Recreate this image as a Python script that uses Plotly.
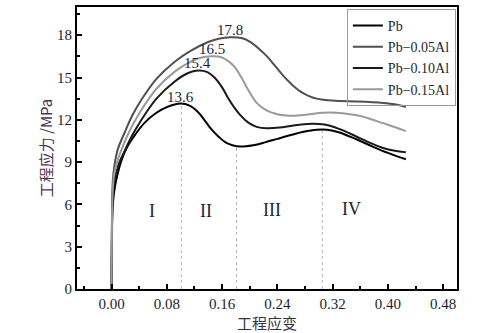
import plotly.graph_objects as go

# ---- data ----
series_names = ["Pb", "Pb\u22120.05Al", "Pb\u22120.10Al", "Pb\u22120.15Al"]

pb_x = [0, 0.0005, 0.001, 0.002, 0.005, 0.009, 0.015, 0.023, 0.035, 0.048, 0.065, 0.08, 0.10, 0.113, 0.125, 0.135, 0.145, 0.155, 0.165, 0.175, 0.186, 0.205, 0.222, 0.24, 0.258, 0.278, 0.297, 0.312, 0.33, 0.355, 0.378, 0.4, 0.426]
pb_y = [0, 3.0, 5.0, 6.1, 7.3, 8.2, 9.2, 10.1, 11.0, 11.8, 12.5, 12.9, 13.15, 13.0, 12.55, 11.95, 11.3, 10.8, 10.4, 10.2, 10.1, 10.2, 10.4, 10.65, 10.9, 11.15, 11.3, 11.3, 11.1, 10.6, 10.1, 9.65, 9.2]

al05_x = [0, 0.0005, 0.001, 0.002, 0.004, 0.009, 0.019, 0.03, 0.043, 0.065, 0.091, 0.115, 0.139, 0.155, 0.172, 0.188, 0.2, 0.212, 0.225, 0.237, 0.248, 0.26, 0.272, 0.285, 0.297, 0.313, 0.33, 0.355, 0.393, 0.41, 0.426]
al05_y = [0, 4.0, 6.5, 7.8, 8.7, 9.9, 11.1, 12.3, 13.4, 14.9, 16.1, 16.9, 17.5, 17.75, 17.85, 17.8, 17.55, 17.1, 16.5, 15.8, 15.15, 14.55, 14.05, 13.7, 13.5, 13.38, 13.33, 13.3, 13.2, 13.1, 12.9]

al10_x = [0, 0.0005, 0.001, 0.002, 0.004, 0.01, 0.019, 0.03, 0.042, 0.065, 0.091, 0.11, 0.125, 0.138, 0.149, 0.16, 0.168, 0.178, 0.187, 0.198, 0.21, 0.225, 0.243, 0.263, 0.283, 0.3, 0.315, 0.335, 0.355, 0.375, 0.393, 0.41, 0.426]
al10_y = [0, 4.0, 5.5, 6.8, 7.6, 8.8, 9.8, 10.9, 11.9, 13.5, 14.7, 15.3, 15.5, 15.4, 15.0, 14.3, 13.6, 12.85, 12.3, 11.8, 11.5, 11.4, 11.45, 11.6, 11.7, 11.7, 11.6, 11.25, 10.8, 10.35, 10.0, 9.8, 9.7]

al15_x = [0, 0.0005, 0.001, 0.002, 0.004, 0.008, 0.013, 0.025, 0.042, 0.065, 0.091, 0.11, 0.129, 0.145, 0.158, 0.168, 0.178, 0.188, 0.198, 0.21, 0.225, 0.24, 0.254, 0.27, 0.287, 0.306, 0.325, 0.345, 0.362, 0.378, 0.4, 0.426]
al15_y = [0, 4.0, 6.0, 7.3, 8.2, 9.0, 9.7, 11.1, 12.6, 14.2, 15.4, 16.0, 16.4, 16.5, 16.45, 16.2, 15.75, 15.0, 14.1, 13.2, 12.65, 12.4, 12.3, 12.3, 12.4, 12.5, 12.5, 12.4, 12.25, 12.0, 11.65, 11.2]

peak_labels = ["13.6", "17.8", "15.4", "16.5"]

stage_bounds_x = [0.101, 0.181, 0.305]
stage_bounds_top = [13.15, 10.1, 11.25]

stage_names = ["I", "II", "III", "IV"]
stage_x = [0.059, 0.137, 0.232, 0.348]
stage_y = [5.5, 5.5, 5.6, 5.7]

x_ticks = [0.0, 0.08, 0.16, 0.24, 0.32, 0.40, 0.48]
x_tick_text = ["0.00", "0.08", "0.16", "0.24", "0.32", "0.40", "0.48"]
y_ticks = [0, 3, 6, 9, 12, 15, 18]

# ---- style ----
colors = ["#000000", "#505050", "#1a1a1a", "#9a9a9a"]
txt = "#1a1f33"
serif = "Liberation Serif, Times New Roman, serif"
cjk = "Noto Sans CJK SC, sans-serif"

fig = go.Figure()

# stage boundary dashed lines
for bx, bt in zip(stage_bounds_x, stage_bounds_top):
    fig.add_trace(go.Scatter(x=[bx, bx], y=[0, bt], mode="lines",
                             line=dict(color="#b0b0b0", width=1, dash="dot"),
                             showlegend=False, hoverinfo="skip"))

xs = [pb_x, al05_x, al10_x, al15_x]
ys = [pb_y, al05_y, al10_y, al15_y]
for name, x, y, c in zip(series_names, xs, ys, colors):
    fig.add_trace(go.Scatter(x=x, y=y, mode="lines", name=name,
                             line=dict(color=c, width=2, shape="spline", smoothing=1.0)))

annotations = []
for x, y, lab in zip(xs, ys, peak_labels):
    i = y.index(max(y))
    annotations.append(dict(x=x[i], y=y[i], text=lab, showarrow=False,
                            yanchor="bottom", yshift=-3,
                            font=dict(family=serif, size=15, color=txt)))
for s, sx, sy in zip(stage_names, stage_x, stage_y):
    annotations.append(dict(x=sx, y=sy, text=s, showarrow=False,
                            font=dict(family=serif, size=18, color=txt)))

fig.update_layout(
    width=480, height=333,
    margin=dict(l=77, r=23, t=7, b=44),
    paper_bgcolor="white", plot_bgcolor="white",
    annotations=annotations,
    legend=dict(x=0.997, y=0.993, xanchor="right", yanchor="top",
                bordercolor="#999999", borderwidth=1, bgcolor="rgba(255,255,255,0)",
                font=dict(family=serif, size=14, color=txt),
                tracegroupgap=0, itemwidth=30),
    xaxis=dict(range=[-0.05, 0.5], tickvals=x_ticks, ticktext=x_tick_text,
               automargin=False,
               showgrid=False, zeroline=False, showline=True, mirror=True,
               linecolor="black", linewidth=2, ticks="inside", ticklen=5,
               tickwidth=1.5, tickcolor="black",
               minor=dict(dtick=0.04, tick0=0, ticks="inside", ticklen=3, tickcolor="black"),
               tickfont=dict(family=serif, size=15, color=txt),
               title=dict(text="工程应变", font=dict(family=cjk, size=15, color="#333344"), standoff=0)),
    yaxis=dict(range=[0, 20], tickvals=y_ticks,
               automargin=False,
               showgrid=False, zeroline=False, showline=True, mirror=True,
               linecolor="black", linewidth=2, ticks="inside", ticklen=5,
               tickwidth=1.5, tickcolor="black",
               minor=dict(dtick=1.5, tick0=0, ticks="inside", ticklen=3, tickcolor="black"),
               tickfont=dict(family=serif, size=15, color=txt),
               title=dict(text="工程应力 /MPa", font=dict(family=cjk, size=15, color="#4a3550"), standoff=1)),
)

fig.write_html("out.html", config={"displayModeBar": False},
               post_script="document.body.style.margin='0';document.body.style.padding='0';")
